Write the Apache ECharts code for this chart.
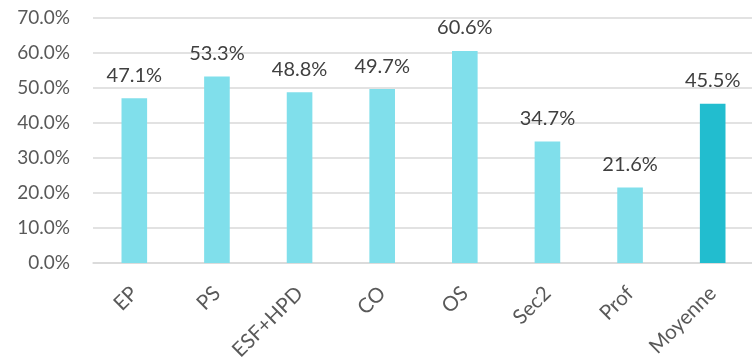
<!DOCTYPE html>
<html><head><meta charset="utf-8">
<script src="https://cdn.jsdelivr.net/npm/echarts@6/dist/echarts.min.js"></script>
<style>html,body{margin:0;padding:0;background:#fff}#c{width:752px;height:358px}</style>
</head><body><div id="c"></div>
<script>
const categories = ['EP','PS','ESF+HPD','CO','OS','Sec2','Prof','Moyenne'];
const values = [47.1, 53.3, 48.8, 49.7, 60.6, 34.7, 21.6, 45.5];
const highlight = ['Moyenne'];
const yTicks = {min: 0, max: 70, interval: 10};

const chart = echarts.init(document.getElementById('c'));
const font = 'Lato, "Open Sans", sans-serif';
chart.setOption({
  animation: false,
  grid: {left: 93, right: -2, top: 18, bottom: 95, containLabel: false, outerBoundsMode: 'none'},
  xAxis: {
    type: 'category', data: categories,
    axisLine: {show: true, lineStyle: {color: '#d9d9d9', width: 1.5}},
    axisTick: {show: false},
    axisLabel: {rotate: 45, color: '#595959', fontSize: 20.5, fontFamily: font, margin: 27}
  },
  yAxis: {
    type: 'value', min: yTicks.min, max: yTicks.max, interval: yTicks.interval,
    axisLine: {show: false}, axisTick: {show: false},
    splitLine: {lineStyle: {color: '#d9d9d9', width: 1.5}},
    axisLabel: {color: '#595959', fontSize: 19, fontFamily: font, margin: 23,
      formatter: v => v.toFixed(1) + '%'}
  },
  series: [{
    type: 'bar', barWidth: '31%',
    data: values.map((v, i) => ({value: v, itemStyle: {color: highlight.includes(categories[i]) ? '#22bdcf' : '#80dfeb'}})),
    label: {show: true, position: 'top', distance: 13, color: '#404040', fontSize: 20, fontFamily: font,
      formatter: p => p.value.toFixed(1) + '%'}
  }]
});
</script></body></html>
